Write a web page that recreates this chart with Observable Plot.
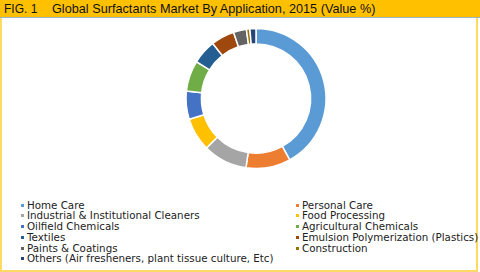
<!DOCTYPE html>
<html><head><meta charset="utf-8">
<script src="https://cdn.jsdelivr.net/npm/d3@7"></script>
<script src="https://cdn.jsdelivr.net/npm/@observablehq/plot@0.6"></script>
<style>
body{margin:0;background:#fff;}
#wrap{position:relative;width:480px;height:272px;overflow:hidden;background:#fff;}
#hdr{position:absolute;left:0;top:0;width:480px;height:17px;background:#FFC000;border-bottom:1px solid #9fb4c6;font-family:"Liberation Sans",Arial,sans-serif;font-size:12px;color:#111;}
#hdr span{position:absolute;top:2px;white-space:nowrap;}
#frame{position:absolute;left:0;top:18px;width:478px;height:254px;box-sizing:border-box;border:2px solid #FFD966;border-top:none;}
#chart{position:absolute;left:0;top:18px;}
#legend{position:absolute;left:0;top:0;width:480px;font-family:"DejaVu Sans",Verdana,sans-serif;font-size:10.3px;color:#222;}
.item{position:absolute;white-space:nowrap;height:10.7px;line-height:10.7px;}
.sw{position:absolute;width:3px;height:3px;top:4px;}
.lb{position:absolute;left:6px;top:0;}
</style></head>
<body><div id="wrap">
<div id="hdr"><span style="left:4px">FIG. 1</span><span style="left:52px;font-size:12.7px;top:1.6px">Global Surfactants Market By Application, 2015 (Value %)</span></div>
<div id="frame"></div>
<div id="chart"></div>
<div id="legend"></div>
</div>
<script>
const categories = ["Home Care","Personal Care","Industrial & Institutional Cleaners","Food Processing","Oilfield Chemicals","Agricultural Chemicals","Textiles","Emulsion Polymerization (Plastics)","Paints & Coatings","Construction","Others (Air fresheners, plant tissue culture, Etc)"];
const values = [42.0, 10.3, 10.2, 7.7, 6.5, 7.1, 5.6, 5.4, 3.0, 0.8, 1.4];
const colors = ["#5B9BD5","#ED7D31","#A5A5A5","#FFC000","#4472C4","#70AD47","#255E91","#9E480E","#636363","#997300","#264478"];

const data = categories.map((c,i)=>({category:c, value:values[i]}));
const W = 480, H = 180, CX = 256, CY = 80.5, R = 70;

const donut = (index, scales) => {
  const cx = scales.x(0), cy = scales.y(0), r = scales.x(1) - scales.x(0);
  const arcs = d3.pie().sort(null).value(d => d.value)(data);
  const arc = d3.arc().innerRadius(r*0.78).outerRadius(r);
  const g = d3.create("svg:g").attr("transform", `translate(${cx},${cy})`);
  g.selectAll("path").data(arcs).join("path")
    .attr("d", arc)
    .attr("fill", d => colors[categories.indexOf(d.data.category)])
    .attr("stroke", "#fff").attr("stroke-width", 1.5).attr("stroke-linejoin","miter");
  return g.node();
};

const chart = Plot.plot({
  width: W, height: H,
  margin: 0,
  x: {domain: [-CX/R, (W-CX)/R], axis: null},
  y: {domain: [-(H-CY)/R, CY/R], axis: null},
  marks: [
    Plot.dot([{x:0,y:0}], {x:"x", y:"y", r:0, fill:"none", stroke:"none"}),
    donut
  ]
});
document.getElementById("chart").appendChild(chart);

const legend = document.getElementById("legend");
categories.forEach((c,i) => {
  const col = i % 2, row = Math.floor(i/2);
  const it = document.createElement("div");
  it.className = "item";
  it.style.left = (col ? 296 : 21) + "px";
  it.style.top = (199.7 + row*10.7) + "px";
  it.innerHTML = `<div class="sw" style="background:${colors[i]}"></div><div class="lb"></div>`;
  it.querySelector(".lb").textContent = c;
  legend.appendChild(it);
});
</script>
</body></html>
